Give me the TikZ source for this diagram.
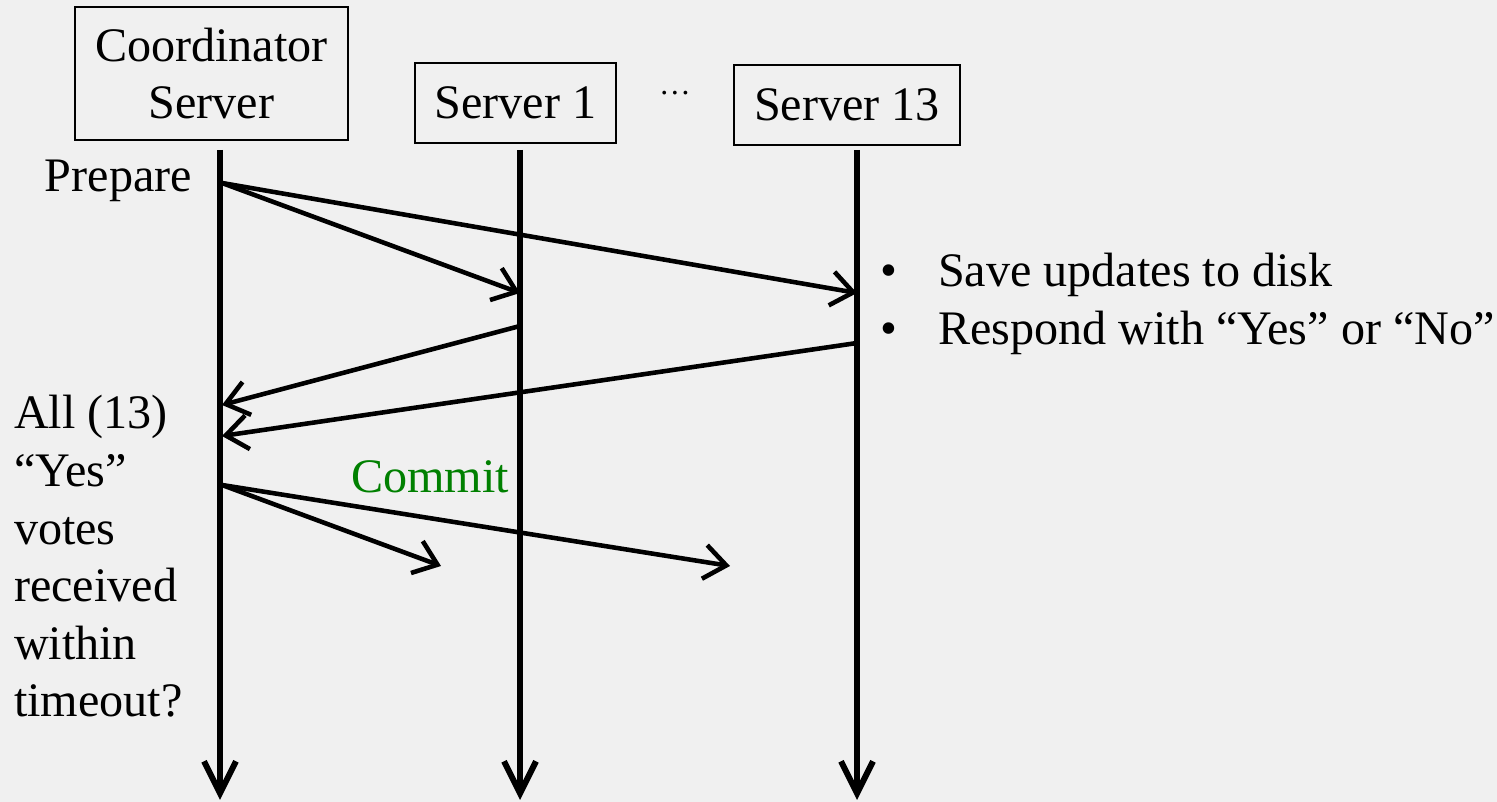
\documentclass[tikz,border=0pt]{standalone}
\usepackage{fontspec}
\setmainfont{Liberation Serif}
\usepackage{xcolor}
\usepackage{tikz}
\usetikzlibrary{
  arrows.meta,
  positioning
}
\definecolor{slidebg}{RGB}{240,240,240}
\definecolor{commitgreen}{RGB}{0,128,0}
\tikzset{
  serverbox/.style={draw, line width=0.6pt, inner sep=0pt, align=center},
  lifeline/.style={line width=1.7pt, -{Straight Barb[length=3.2mm, width=3.2mm, line width=1.7pt]}},
  msg/.style={line width=1.3pt, -{Straight Barb[length=2.2mm, width=3.4mm, line width=1.3pt]}},
  plain/.style={inner sep=0pt, outer sep=0pt}
}

\begin{document}
\begin{tikzpicture}[font=\fontsize{13.7}{16.4}\selectfont]
  % page
  \fill[slidebg] (0, 0) rectangle (14.97, 8.02);
  \useasboundingbox (0, 0) rectangle (14.97, 8.02);

  % servers
  \node[serverbox, minimum width=2.73cm, minimum height=1.33cm] (coord) at (2.115, 7.285)
    {Coordinator\\Server};
  \node[serverbox, minimum width=2.01cm, minimum height=0.80cm] (srv1) at (5.155, 6.99) {Server 1};
  \node[serverbox, minimum width=2.26cm, minimum height=0.80cm] (srv13) at (8.47, 6.97) {Server 13};
  \node[plain, font=\fontsize{9}{10}\selectfont] (dots) at (6.75, 7.09) {\ldots};

  % lifelines
  \coordinate (ctop) at (2.20, 6.52);   \coordinate (cbot) at (2.20, 0.02);
  \coordinate (atop) at (5.20, 6.52);   \coordinate (abot) at (5.20, 0.02);
  \coordinate (btop) at (8.57, 6.52);   \coordinate (bbot) at (8.57, 0.02);
  \draw[lifeline] (ctop) -- (cbot);
  \draw[lifeline] (atop) -- (abot);
  \draw[lifeline] (btop) -- (bbot);

  % prepare phase
  \coordinate (prep) at (2.22, 6.19);
  \coordinate (prep1) at (5.20, 5.09);
  \coordinate (prep13) at (8.57, 5.09);
  \draw[msg] (prep) -- (prep1);
  \draw[msg] (prep) -- (prep13);
  \node[plain, anchor=base east] (preplabel) at (1.92, 6.10) {Prepare};

  % votes
  \coordinate (vote1) at (5.20, 4.76);
  \coordinate (vote13) at (8.57, 4.59);
  \coordinate (recv1) at (2.22, 3.97);
  \coordinate (recv13) at (2.22, 3.66);
  \draw[msg] (vote1) -- (recv1);
  \draw[msg] (vote13) -- (recv13);

  \node[plain, anchor=base west] (bulletA) at (8.80, 5.15) {•};
  \node[plain, anchor=base west] (saveA) at (9.38, 5.15) {Save updates to disk};
  \node[plain, anchor=base west] (bulletB) at (8.80, 4.57) {•};
  \node[plain, anchor=base west] (saveB) at (9.38, 4.57) {Respond with “Yes” or “No”};

  % decision + commit
  \node[plain, anchor=base west, align=left] (decide) at (0.14, 0.85)
    {All (13)\\“Yes”\\votes\\received\\within\\timeout?};

  \coordinate (commit) at (2.22, 3.17);
  \coordinate (commit1) at (4.41, 2.36);
  \coordinate (commit13) at (7.30, 2.36);
  \draw[msg] (commit) -- (commit1);
  \draw[msg] (commit) -- (commit13);
  \node[plain, anchor=base, text=commitgreen] (commitlabel) at (4.30, 3.09) {Commit};

\end{tikzpicture}
\end{document}
